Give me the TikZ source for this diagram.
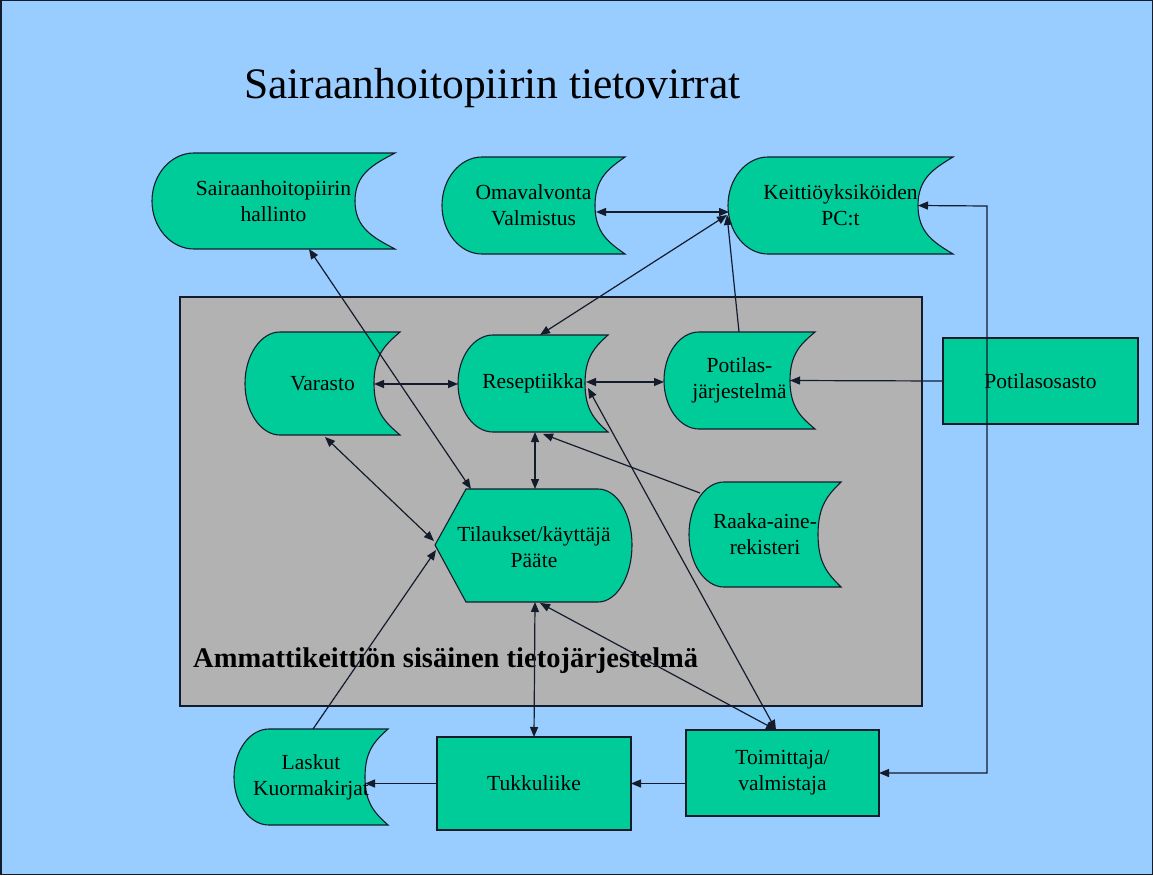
\documentclass[tikz,border=0pt]{standalone}
\usepackage{fontspec}
\setmainfont{Liberation Serif}
\usetikzlibrary{arrows.meta}
\definecolor{bgblue}{HTML}{99CCFF}
\definecolor{tealfill}{HTML}{00CC99}
\definecolor{grayfill}{HTML}{B2B2B2}
\definecolor{edgec}{HTML}{141C2C}
\tikzset{
  shapeline/.style={draw=edgec, line width=1.1pt, fill=tealfill},
  nodetext/.style={align=center, inner sep=0pt, text=black, font=\fontsize{21.5}{26}\selectfont},
  rectbox/.style={shapeline, nodetext, inner sep=0pt, outer sep=0pt},
  arr/.style={draw=edgec, line width=1.2pt, -{Triangle[length=10pt,width=8pt]}},
  biarr/.style={draw=edgec, line width=1.2pt, {Triangle[length=10pt,width=8pt]}-{Triangle[length=10pt,width=8pt]}},
}
% name, x1, y1, x2, y2, left depth, right depth, text
\newcommand\storagebox[8]{%
  \pgfmathsetmacro\sbym{(#3+#5)/2}%
  \pgfmathsetmacro\sbh{#5-#3}%
  \path[shapeline] ({#2+#6},#3)
     .. controls ({#2+0.45*#6},#3) and (#2,{\sbym-0.275*\sbh}) .. (#2,\sbym)
     .. controls (#2,{\sbym+0.275*\sbh}) and ({#2+0.45*#6},#5) .. ({#2+#6},#5)
     -- (#4,#5)
     .. controls ({#4-0.55*#7},{#5-0.12*\sbh}) and ({#4-#7},{\sbym+0.28*\sbh}) .. ({#4-#7},\sbym)
     .. controls ({#4-#7},{\sbym-0.28*\sbh}) and ({#4-0.55*#7},{#3+0.12*\sbh}) .. (#4,#3)
     -- cycle;
  \node[nodetext] (#1) at ({(#2+#4)/2},\sbym) {#8};
  \coordinate (#1-in) at ({#4-#7},\sbym);
}
\begin{document}
\begin{tikzpicture}[x=1pt,y=-1pt]
\useasboundingbox (0,0) rectangle (1153,875);
\fill[bgblue] (0,0) rectangle (1153,875);
\draw[edgec, line width=1.5pt] (0.75,0.75) rectangle (1152.25,874.25);

% title
\node[anchor=west, inner sep=0pt, font=\fontsize{43.5}{48}\selectfont] (title) at (244,88) {Sairaanhoitopiirin tietovirrat};

% inner system area
\path[draw=edgec, line width=1.1pt, fill=grayfill] (180,297) rectangle (922,706);
\node[anchor=west, inner sep=0pt, font=\bfseries\fontsize{28.5}{32}\selectfont] (systemlabel) at (193,661) {Ammattikeittiön sisäinen tietojärjestelmä};

% storage shapes
\storagebox{hal}{152}{153}{395}{249}{42}{40}{Sairaanhoitopiirin\\hallinto}
\storagebox{oma}{442}{157}{625}{254}{40}{30}{Omavalvonta\\Valmistus}
\storagebox{kei}{728}{157}{953}{254}{40}{35}{Keittiöyksiköiden\\PC:t}
\storagebox{var}{245}{332}{400}{435}{35}{26}{Varasto}
\storagebox{res}{458}{335}{608}{432}{35}{23}{Reseptiikka}
\storagebox{pot}{664}{332}{815}{429}{35}{25}{Potilas-\\järjestelmä}
\storagebox{raa}{689}{482}{841}{587}{35}{23}{Raaka-aine-\\rekisteri}
\storagebox{las}{234}{729}{388}{825}{35}{23}{Laskut\\Kuormakirjat}

% display shape
\path[shapeline] (435,545) -- (466,489) -- (598,489)
   .. controls (617,489) and (632,514) .. (632,545)
   .. controls (632,576) and (617,602) .. (598,602)
   -- (466,602) -- cycle;
\node[nodetext] (til) at (534,547) {Tilaukset/käyttäjä\\Pääte};

% rectangles
\node[rectbox, minimum width=195pt, minimum height=86pt] (pos) at (1040.5,381) {Potilasosasto};
\node[rectbox, minimum width=194pt, minimum height=93pt] (tuk) at (534,783.5) {Tukkuliike};
\node[rectbox, minimum width=193pt, minimum height=86pt] (toi) at (782.5,773) {Toimittaja/\\valmistaja};

% connection points
\coordinate (hal-b) at (309,249);
\coordinate (oma-r) at (596,212);
\coordinate (kei-l) at (729,212);
\coordinate (kei-l2) at (727,215);
\coordinate (res-t) at (540,335);
\coordinate (res-b) at (535,432);
\coordinate (res-b2) at (543,434);
\coordinate (res-l) at (458,384);
\coordinate (res-r) at (586,382);
\coordinate (res-r2) at (588,388);
\coordinate (var-r) at (374,384);
\coordinate (var-b) at (325,437);
\coordinate (pot-l) at (664,382);
\coordinate (pot-t) at (739,332);
\coordinate (raa-l) at (700,493);
\coordinate (las-t) at (313,729);
\coordinate (til-tl) at (471,489);
\coordinate (til-t) at (535,489);
\coordinate (til-l1) at (434,541);
\coordinate (til-l2) at (436,550);
\coordinate (til-b) at (535,602);
\coordinate (til-b2) at (540,603);
\coordinate (toi-t) at (776,730);
\coordinate (loop) at (987,206);

% connectors
\draw[biarr] (hal-b) -- (til-tl);
\draw[biarr] (oma-r) -- (kei-l);
\draw[biarr] (res-t) -- (kei-l2);
\draw[arr] (pot-t) -- (kei-l2);
\draw[biarr] (kei-in) -- (loop) |- (toi.east);
\draw[arr] (pos.west) -- (pot-in);
\draw[biarr] (res-r) -- (pot-l);
\draw[biarr] (var-r) -- (res-l);
\draw[biarr] (res-b) -- (til-t);
\draw[arr] (raa-l) -- (res-b2);
\draw[biarr] (var-b) -- (til-l1);
\draw[arr] (las-t) -- (til-l2);
\draw[biarr] (res-r2) -- (toi-t);
\draw[biarr] (til-b2) -- (toi-t);
\draw[biarr] (til-b) -- (tuk.north);
\draw[arr] (tuk.west) -- (tuk.west -| las-in);
\draw[arr] (toi.west |- tuk.west) -- (tuk.east);
\end{tikzpicture}
\end{document}
